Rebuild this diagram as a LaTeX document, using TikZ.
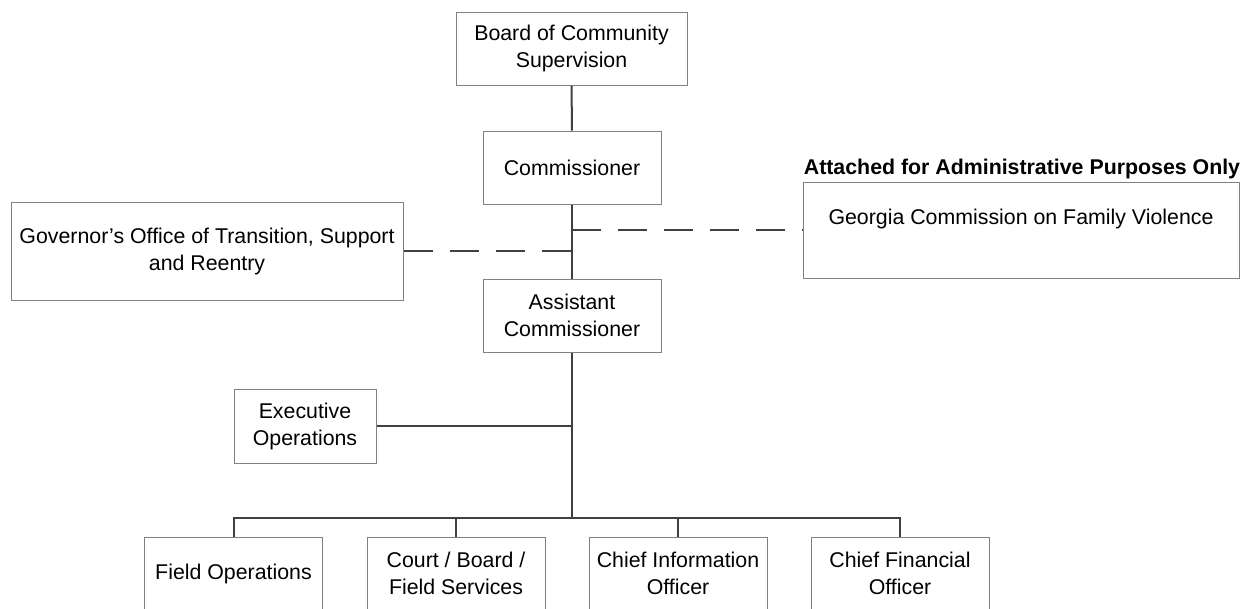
\documentclass[tikz,border=0pt]{standalone}
\usepackage{fontspec}
\setmainfont{Liberation Sans}
\usetikzlibrary{calc}

\begin{document}
\begin{tikzpicture}[x=0.75pt,y=-0.75pt]
\tikzstyle{box}=[draw=black!50,line width=0.75pt,rectangle,align=center,inner sep=2pt,minimum height=54.75pt,font=\fontsize{16}{20.25}\selectfont]
\tikzstyle{link}=[draw=black!75,line width=1.5pt]
\tikzstyle{adminlink}=[link,dash pattern=on 21.75pt off 12.75pt]
\clip (0,0) rectangle (1257,608);
\node[box,minimum width=173.25pt] (board) at (571.5,48.5) {Board of Community\\Supervision};
\node[box,minimum width=133.5pt] (comm) at (572,167.5) {Commissioner};
\node[box,minimum width=294pt,minimum height=73.5pt] (gov) at (207,251) {Governor's Office of Transition, Support\\and Reentry};
\node[box,minimum width=133.5pt] (asst) at (572,315.5) {Assistant\\Commissioner};
\node[font=\fontsize{16}{20.25}\selectfont\bfseries] (attached) at (1022,169) {Attached for Administrative Purposes Only};
\node[box,minimum width=327pt,minimum height=72pt] (georgia) at (1021,230) {Georgia Commission on Family Violence\\~};
\node[box,minimum width=106.5pt,minimum height=55.5pt] (exec) at (305,426) {Executive\\Operations};
\foreach \name/\x/\txt in {
	field/233.5/{Field Operations},
	court/456/{Court / Board /\\Field Services},
	cio/678/{Chief Information\\Officer},
	cfo/900/{Chief Financial\\Officer}}
	\node[box,minimum width=133.5pt] (\name) at (\x,573.5) {\txt};
\coordinate (bus) at (572,518);
	\draw[link] (board) -- (comm);
	\draw[link] (comm) -- (asst);
	\draw[adminlink] (gov.east) -- (gov.east -| comm.south);
	\draw[adminlink] (georgia.west -| comm.south) -- (georgia.west);
	\draw[link] (exec) -- (exec -| asst.south);
	\draw[link] (asst) -- (bus);
	\draw[link] (field) |- (bus) -| (cfo);
	\draw[link] (court) -- (court |- bus);
	\draw[link] (cio) -- (cio |- bus);
\end{tikzpicture}
\end{document}
